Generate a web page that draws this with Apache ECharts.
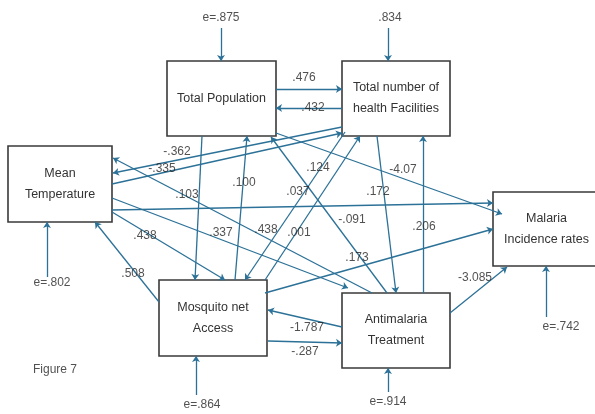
<!DOCTYPE html>
<html>
<head>
<meta charset="utf-8">
<script src="https://cdn.jsdelivr.net/npm/echarts@6/dist/echarts.min.js"></script>
<style>
  html, body { margin: 0; padding: 0; background: #fff; }
  #path { width: 595px; height: 414px; }
</style>
</head>
<body>
<div id="path"></div>
<script>
// variables (boxes)
const nodeNames = [
  'Total Population',
  'Total number of\nhealth Facilities',
  'Mean\nTemperature',
  'Malaria\nIncidence rates',
  'Mosquito net\nAccess',
  'Antimalaria\nTreatment'
]
// path coefficients, same order as pathGeo below
const pathFrom = [0, 1, 1, 2, 0, 4, 2, 0, 5, 5, 2, 2, 4, 1, 4, 1, 5, 4, 5, 4, 5]
const pathTo = [1, 0, 2, 1, 4, 0, 3, 3, 0, 2, 5, 4, 2, 4, 1, 5, 1, 3, 4, 5, 3]
const pathCoefs = ['.476', '.432', '-.362', '-.335', '.103', '.100', '.124', '-4.07', '-.091', '.438',
  '.337', '.438', '.508', '.037', '.001', '.172', '.206', '.173', '-1.787', '-.287', '-3.085']
// error terms
const errorLabels = ['e=.875', '.834', 'e=.802', 'e=.864', 'e=.914', 'e=.742']
const figureLabel = 'Figure 7'

// layout (canvas pixels)
const nodeBoxes = [[167, 61, 276, 136], [342, 61, 450, 136], [8, 146, 112, 222],
  [493, 192, 600, 266], [159, 280, 267, 356], [342, 293, 450, 368]]
const pathGeo = [
  [[276, 89], [342, 89]], [[342, 108], [276, 108]], [[342, 127], [113, 173]], [[112, 184], [342, 133]],
  [[202, 136], [195, 280]], [[235, 280], [247, 136]], [[112, 210], [493, 203]], [[276, 133], [502, 214]],
  [[387, 293], [271, 137]], [[372, 293], [113, 158]], [[112, 198], [348, 288]], [[112, 212], [225, 280]],
  [[159, 302], [95, 222]], [[345, 132], [245, 280]], [[265, 280], [360, 136]], [[377, 136], [396, 293]],
  [[423, 293], [423, 136]], [[265, 293], [493, 229]], [[342, 327], [268, 310]], [[268, 341], [342, 343]],
  [[450, 313], [507, 267]]
]
const coefPos = [[304, 78], [313, 108], [177, 152], [162, 169], [187, 195], [244, 183], [318, 168],
  [403, 170], [352, 220], [266, 230], [221, 233], [145, 236], [133, 274], [298, 192], [299, 233],
  [378, 192], [424, 227], [357, 258], [307, 328], [305, 352], [475, 278]]
const errorGeo = [[[221, 28], [221, 61]], [[388, 28], [388, 61]], [[47, 277], [47, 222]],
  [[196, 395], [196, 356]], [[388, 392], [388, 368]], [[546, 317], [546, 266]]]
const errorPos = [[221, 18], [390, 18], [52, 283], [202, 405], [388, 402], [561, 327]]

const blue = '#2c7197'
const font = 'Liberation Sans'

const myChart = echarts.init(document.getElementById('path'))

const arrows = pathGeo.map((g, i) => ({ name: nodeNames[pathFrom[i]] + ' -> ' + nodeNames[pathTo[i]], coords: g }))
  .concat(errorGeo.map((g) => ({ coords: g })))

const texts = pathCoefs.map((c, i) => ({ name: c, value: coefPos[i] }))
  .concat(errorLabels.map((c, i) => ({ name: c, value: errorPos[i] })))
  .concat([{ name: figureLabel, value: [55, 370] }])

const option = {
  animation: false,
  grid: { left: 0, right: 0, top: 0, bottom: 0 },
  xAxis: { type: 'value', min: 0, max: 595, show: false },
  yAxis: { type: 'value', min: 0, max: 414, inverse: true, show: false },
  series: [
    {
      // boxes
      type: 'custom',
      z: 1,
      data: nodeBoxes.map((b, i) => ({ name: nodeNames[i], value: b })),
      renderItem: (params, api) => {
        const p0 = api.coord([api.value(0), api.value(1)])
        const p1 = api.coord([api.value(2), api.value(3)])
        return {
          type: 'rect',
          shape: { x: p0[0], y: p0[1], width: p1[0] - p0[0], height: p1[1] - p0[1] },
          style: { fill: '#fff', stroke: '#3a3a3a', lineWidth: 1.6 },
          textContent: {
            style: {
              text: nodeNames[params.dataIndex],
              fill: '#333',
              fontSize: 12.5,
              fontFamily: font,
              lineHeight: 21,
              align: 'center'
            }
          },
          textConfig: { position: 'inside' }
        }
      }
    },
    {
      type: 'lines',
      coordinateSystem: 'cartesian2d',
      z: 2,
      data: arrows,
      symbol: ['none', 'arrow'],
      symbolSize: [0, 6],
      lineStyle: { color: blue, width: 1.3, opacity: 1 }
    },
    {
      type: 'scatter',
      z: 3,
      symbolSize: 0,
      data: texts,
      label: {
        show: true,
        position: 'inside',
        formatter: (p) => p.name,
        color: '#262626',
        fontSize: 12,
        fontFamily: font
      }
    }
  ]
}
myChart.setOption(option)
</script>
</body>
</html>
